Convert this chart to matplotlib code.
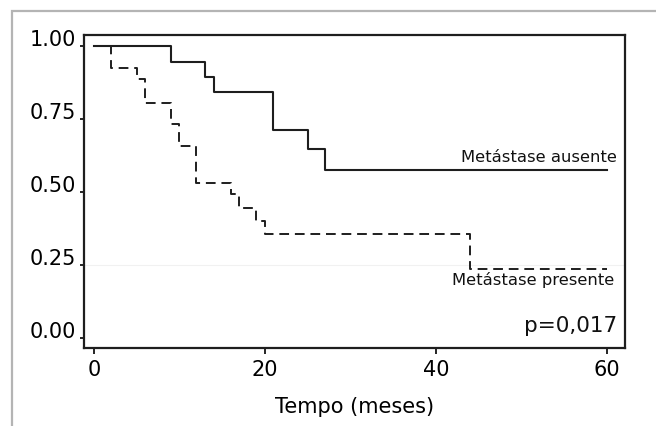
import matplotlib
matplotlib.use("Agg")
import matplotlib.pyplot as plt
from matplotlib.patches import Rectangle

# Kaplan-Meier curves
t_ausente = [0, 9, 13, 14, 21, 25, 27, 60]
s_ausente = [1.0, 0.947, 0.895, 0.842, 0.714, 0.646, 0.575, 0.575]

t_presente = [0, 2, 5, 6, 9, 10, 12, 16, 17, 19, 20, 44, 60]
s_presente = [1.0, 0.924, 0.889, 0.806, 0.733, 0.658, 0.532, 0.495, 0.447, 0.402, 0.355, 0.236, 0.236]

x_ticks = [0, 20, 40, 60]
y_ticks = [0.0, 0.25, 0.5, 0.75, 1.0]
y_labels = ["0.00", "0.25", "0.50", "0.75", "1.00"]

fig = plt.figure(figsize=(6.56, 4.26), dpi=100)
ax = fig.add_axes([84 / 656, 1 - 348 / 426, (625 - 84) / 656, (348 - 35) / 426])

# Light outer frame (only left and top edges visible)
fig.add_artist(Rectangle((12 / 656, -0.2), 1.2, 1.2 - 11 / 426, transform=fig.transFigure,
                         fill=False, edgecolor="#b4b4b4", linewidth=1.6, clip_on=False))

# faint line at 0.25
ax.axhline(0.25, color="#f1f1f1", linewidth=0.8, zorder=0)

ax.plot(t_ausente, s_ausente, drawstyle="steps-post", color="#1e1e1e", linewidth=1.5)
ax.plot(t_presente, s_presente, drawstyle="steps-post", color="#1e1e1e", linewidth=1.4,
        linestyle=(0, (5, 3)))

ax.set_xlim(-1.15, 62.1)
ax.set_ylim(-0.034, 1.038)

ax.set_xticks(x_ticks)
ax.set_yticks(y_ticks)
ax.set_yticklabels(y_labels)
ax.tick_params(axis="x", direction="out", length=4, width=1.2, labelsize=15, pad=5)
ax.tick_params(axis="y", direction="out", length=3, width=1.2, labelsize=15, pad=3)
for lab in ax.get_yticklabels():
    lab.set_verticalalignment("baseline")

for sp in ax.spines.values():
    sp.set_linewidth(1.6)
    sp.set_color("#1e1e1e")

ax.set_xlabel("Tempo (meses)", fontsize=15, labelpad=12)

ax.text(61.2, 0.603, "Metástase ausente", fontsize=11.8, ha="right", va="baseline", color="#111111")
ax.text(60.8, 0.183, "Metástase presente", fontsize=11.8, ha="right", va="baseline", color="#111111")
ax.text(61.2, 0.022, "p=0,017", fontsize=15.5, ha="right", va="baseline", color="#111111")

fig.savefig("out.png", dpi=100)
